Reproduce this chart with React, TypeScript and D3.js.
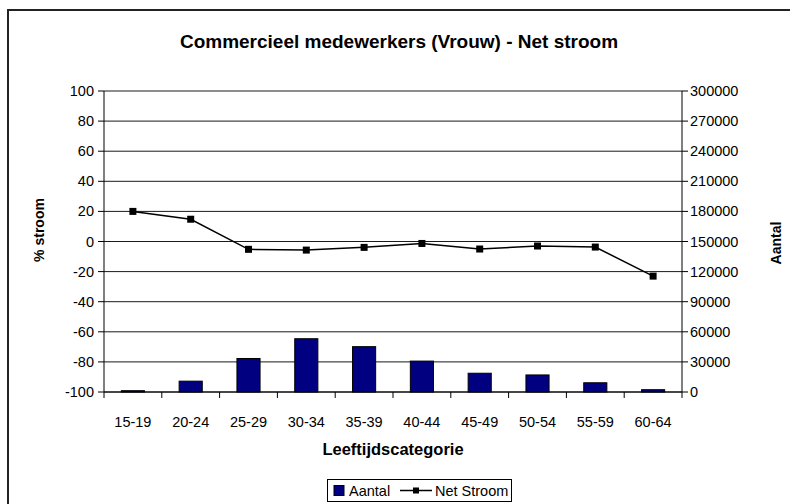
import React from "react";
import * as d3 from "d3";

const categories = ["15-19", "20-24", "25-29", "30-34", "35-39", "40-44", "45-49", "50-54", "55-59", "60-64"];
const aantal = [1300, 10800, 33400, 53100, 45200, 30800, 18700, 17000, 9200, 2300];
const netStroom = [20, 14.8, -5.2, -5.7, -3.9, -1.3, -5.0, -3.0, -3.7, -23.0];
const leftTicks = [-100, -80, -60, -40, -20, 0, 20, 40, 60, 80, 100];
const rightTicks = [0, 30000, 60000, 90000, 120000, 150000, 180000, 210000, 240000, 270000, 300000];

const FONT = "'Liberation Sans', Arial, sans-serif";

function T({ x, y, anchor = "start", size = 14.5, weight = "normal", rotate = 0, children }: any) {
  return (
    <text
      transform={`translate(${x},${y})${rotate ? ` rotate(${rotate})` : ""}`}
      textAnchor={anchor}
      fontSize={size}
      fontWeight={weight}
      fontFamily={FONT}
      fill="#000"
    >
      {children}
    </text>
  );
}

export default function App() {
  const W = 790, H = 504;
  const left = 104, right = 682, top = 91, bottom = 392;
  const x = d3.scaleBand<string>().domain(categories).range([left, right]).padding(0);
  const yL = d3.scaleLinear().domain([-100, 100]).range([bottom, top]);
  const yR = d3.scaleLinear().domain([0, 300000]).range([bottom, top]);
  const bw = x.bandwidth() / 2.5;
  const line = d3
    .line<number>()
    .x((_, i) => (x(categories[i]) as number) + x.bandwidth() / 2)
    .y((d) => yL(d));

  return (
    <svg width={W} height={H} style={{ position: "absolute", left: 0, top: 0, background: "#fff" }}>
      <rect x={0} y={0} width={W} height={H} fill="#fff" />
      <rect x={8} y={10} width={800} height={600} fill="none" stroke="#222" strokeWidth={2} />
      <T x={399} y={48} anchor="middle" size={19} weight="bold">
        Commercieel medewerkers (Vrouw) - Net stroom
      </T>
      {/* gridlines */}
      {leftTicks.map((t) => (
        <line key={"g" + t} x1={left} x2={right} y1={yL(t)} y2={yL(t)} stroke="#1a1a1a" strokeWidth={1} />
      ))}
      {/* bars */}
      {aantal.map((v, i) => (
        <rect
          key={"b" + i}
          x={(x(categories[i]) as number) + (x.bandwidth() - bw) / 2}
          y={yR(v)}
          width={bw}
          height={yR(0) - yR(v)}
          fill="#000080"
          stroke="#000"
          strokeWidth={1}
        />
      ))}
      {/* axes */}
      <line x1={left} x2={left} y1={top} y2={bottom} stroke="#000" />
      <line x1={right} x2={right} y1={top} y2={bottom} stroke="#000" />
      <line x1={left} x2={right} y1={bottom} y2={bottom} stroke="#000" />
      {leftTicks.map((t) => (
        <g key={"lt" + t}>
          <line x1={left - 6} x2={left} y1={yL(t)} y2={yL(t)} stroke="#000" />
          <T x={94} y={yL(t) + 5} anchor="end">{t}</T>
        </g>
      ))}
      {rightTicks.map((t) => (
        <g key={"rt" + t}>
          <line x1={right} x2={right + 6} y1={yR(t)} y2={yR(t)} stroke="#000" />
          <T x={690} y={yR(t) + 5} anchor="start">{t}</T>
        </g>
      ))}
      {d3.range(categories.length + 1).map((i) => {
        const xx = left + i * x.bandwidth();
        return <line key={"xt" + i} x1={xx} x2={xx} y1={bottom} y2={bottom + 6} stroke="#000" />;
      })}
      {categories.map((c) => (
        <T key={"xl" + c} x={(x(c) as number) + x.bandwidth() / 2} y={427} anchor="middle">{c}</T>
      ))}
      {/* line series */}
      <path d={line(netStroom) || ""} fill="none" stroke="#000" strokeWidth={1.5} />
      {netStroom.map((v, i) => (
        <rect
          key={"m" + i}
          x={(x(categories[i]) as number) + x.bandwidth() / 2 - 3.5}
          y={yL(v) - 3.5}
          width={7}
          height={7}
          fill="#000"
        />
      ))}
      {/* axis titles */}
      <T x={393} y={455} anchor="middle" size={16.5} weight="bold">Leeftijdscategorie</T>
      <T x={44} y={230} anchor="middle" size={14} weight="bold" rotate={-90}>% stroom</T>
      <T x={781} y={243} anchor="middle" size={14} weight="bold" rotate={-90}>Aantal</T>
      {/* legend */}
      <rect x={327.5} y={479.5} width={184} height={22} fill="#fff" stroke="#000" />
      <rect x={334} y={485.5} width={10} height={10} fill="#000080" stroke="#000" />
      <T x={349} y={496} size={14.5}>Aantal</T>
      <line x1={400} x2={432} y1={490.5} y2={490.5} stroke="#000" strokeWidth={1.5} />
      <rect x={413} y={487.5} width={6} height={6} fill="#000" />
      <T x={435} y={496} size={14.5}>Net Stroom</T>
    </svg>
  );
}
